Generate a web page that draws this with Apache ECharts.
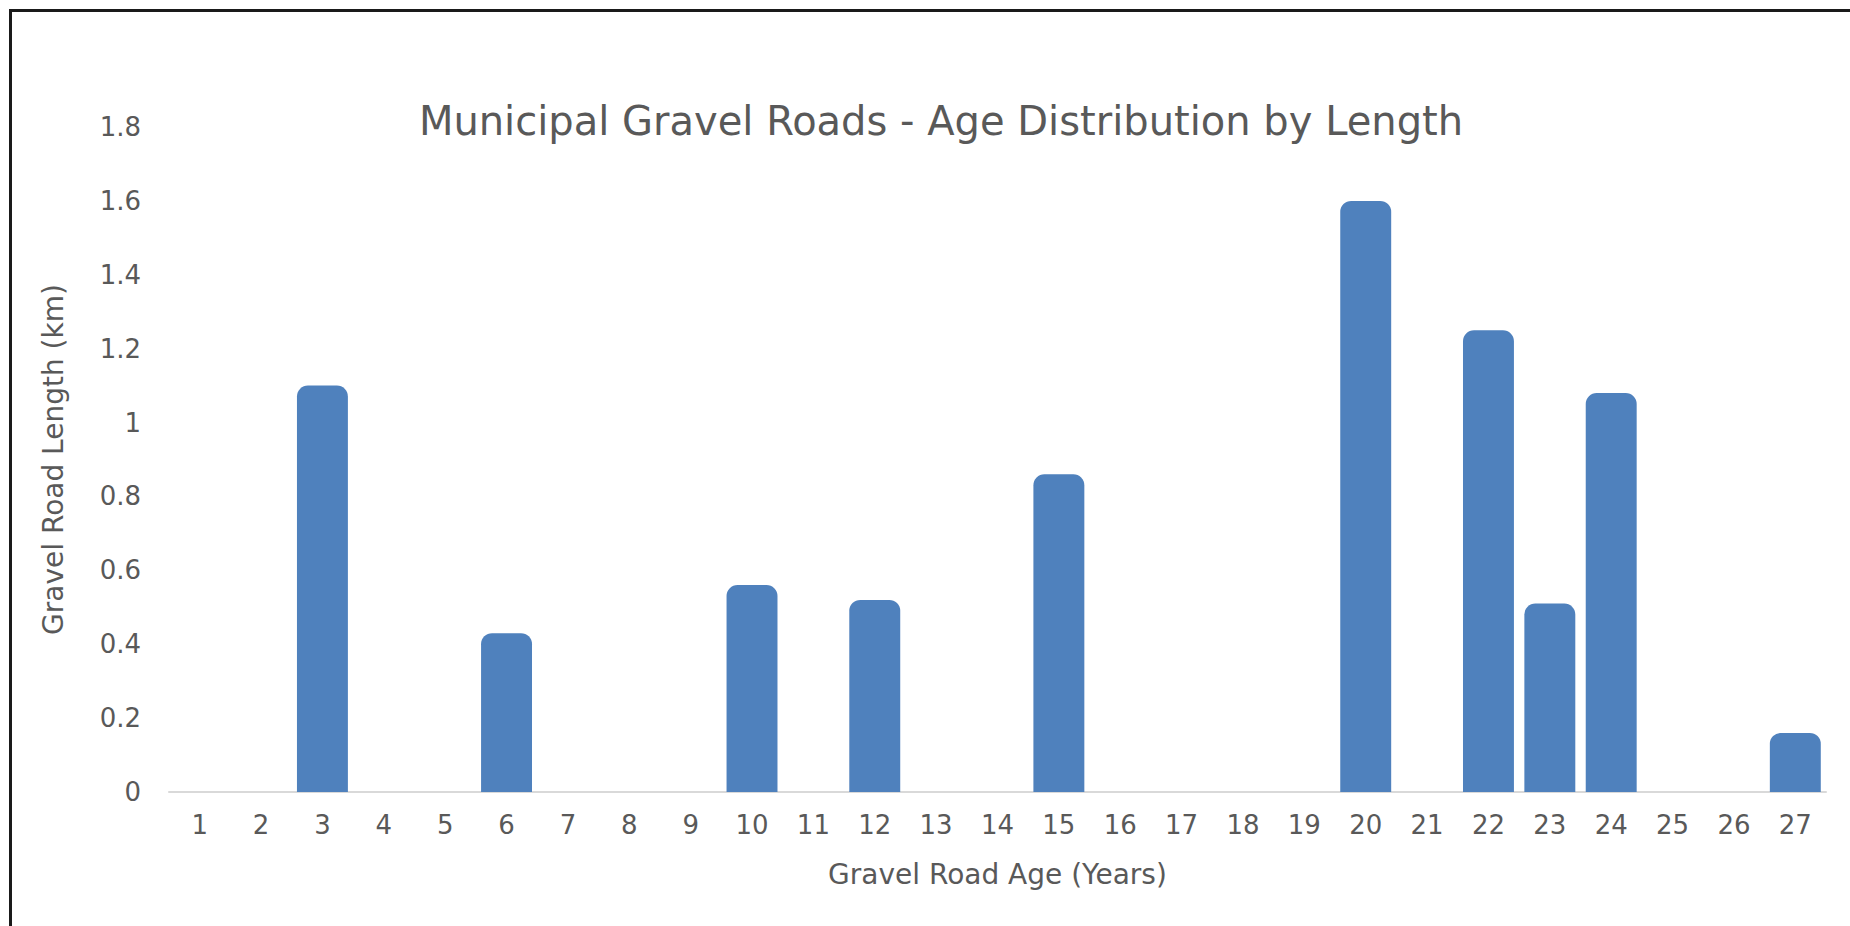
<!DOCTYPE html>
<html>
<head>
<meta charset="utf-8">
<title>Municipal Gravel Roads - Age Distribution by Length</title>
<script src="https://cdn.jsdelivr.net/npm/echarts@6/dist/echarts.min.js"></script>
<style>
  html, body { margin: 0; padding: 0; background: #fff; overflow: hidden; }
  #chart { position: absolute; left: 0; top: 0; width: 1850px; height: 926px; }
  #frame {
    position: absolute; left: 9px; top: 9px; width: 1841px; height: 917px;
    border-left: 3px solid #1a1a1a; border-top: 3px solid #1a1a1a;
    box-sizing: border-box; pointer-events: none;
  }
</style>
</head>
<body>
<div id="chart"></div>
<div id="frame"></div>
<script>
// road age in years
var ages = ['1', '2', '3', '4', '5', '6', '7', '8', '9', '10', '11', '12', '13', '14',
  '15', '16', '17', '18', '19', '20', '21', '22', '23', '24', '25', '26', '27'];
// gravel road length (km) per age
var lengths = [0, 0, 1.1, 0, 0, 0.43, 0, 0, 0, 0.56, 0, 0.52, 0, 0, 0.86,
  0, 0, 0, 0, 1.6, 0, 1.25, 0.51, 1.08, 0, 0, 0.16];

var fontFamily = '"DejaVu Sans", sans-serif';
var textColor = '#595959';

var chart = echarts.init(document.getElementById('chart'), null, { renderer: 'svg' });
chart.setOption({
  animation: false,
  textStyle: { fontFamily: fontFamily },
  title: {
    text: 'Municipal Gravel Roads - Age Distribution by Length',
    left: 936,
    textAlign: 'center',
    top: 96,
    textStyle: { color: textColor, fontSize: 40, fontWeight: 'normal', fontFamily: fontFamily }
  },
  grid: { left: 169, right: 24, top: 127, bottom: 134 },
  xAxis: {
    type: 'category',
    data: ages,
    name: 'Gravel Road Age (Years)',
    nameLocation: 'middle',
    nameGap: 68,
    nameTextStyle: { color: textColor, fontSize: 28, fontFamily: fontFamily },
    axisLine: { lineStyle: { color: '#d9d9d9', width: 2 } },
    axisTick: { show: false },
    axisLabel: { color: textColor, fontSize: 26, margin: 20, fontFamily: fontFamily }
  },
  yAxis: {
    type: 'value',
    min: 0,
    max: 1.8,
    interval: 0.2,
    name: 'Gravel Road Length (km)',
    nameLocation: 'middle',
    nameGap: 102,
    nameTextStyle: { color: textColor, fontSize: 28, fontFamily: fontFamily },
    axisLine: { show: false },
    axisTick: { show: false },
    splitLine: { show: false },
    axisLabel: {
      color: textColor, fontSize: 26, margin: 28, fontFamily: fontFamily,
      formatter: function (v) { return String(Math.round(v * 10) / 10); }
    }
  },
  series: [{
    type: 'bar',
    data: lengths,
    barCategoryGap: '17%',
    itemStyle: { color: '#4f81bd', borderRadius: [11, 11, 0, 0] }
  }]
});
</script>
</body>
</html>
